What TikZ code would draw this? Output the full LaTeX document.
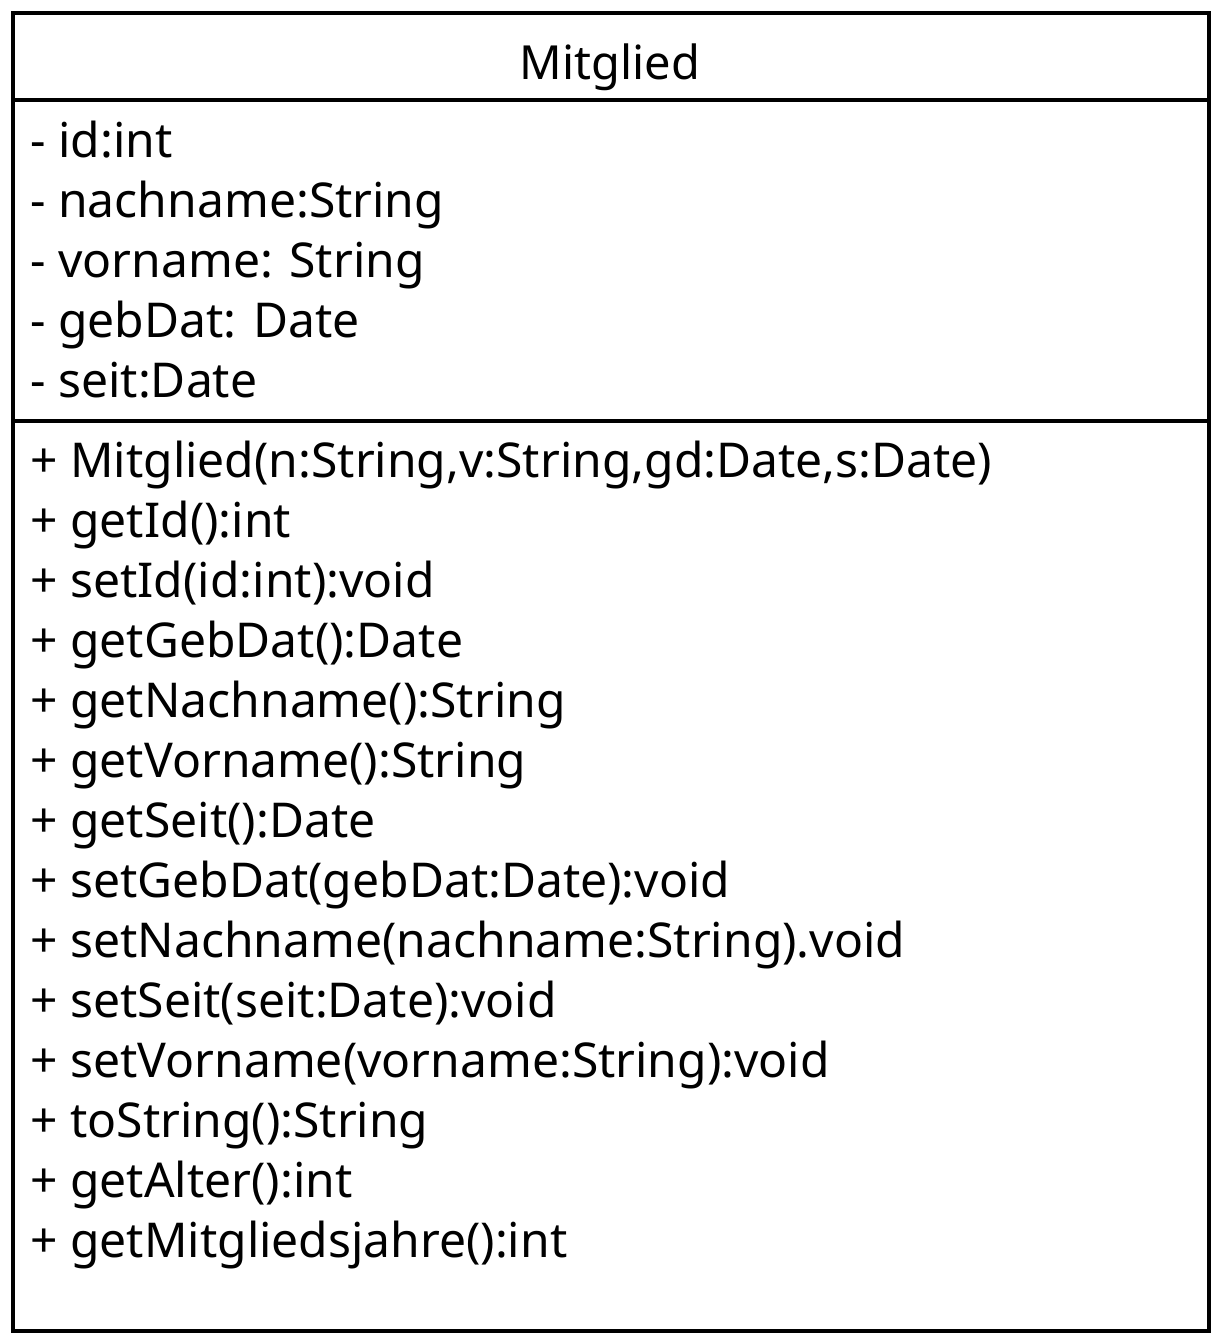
\documentclass[tikz,border=0pt]{standalone}
\usepackage{fontspec}
\setmainfont{Noto Sans}
\begin{document}
\begin{tikzpicture}[x=0.5pt,y=-0.5pt,
  umltext/.style={anchor=base west,inner sep=0pt,font=\fontsize{24}{28}\selectfont},
  umltitle/.style={anchor=base,inner sep=0pt,font=\fontsize{23.5}{28}\selectfont},
  boxline/.style={line width=2pt,black}]
\useasboundingbox (0,0) rectangle (1220,1340);
\draw[boxline] (13,13) rectangle (1209,1331);
\draw[boxline] (13,100) -- (1209,100);
\draw[boxline] (13,421) -- (1209,421);
\node[umltitle] (title) at (610,79) {Mitglied};
\foreach \t [count=\i from 0] in {- id:int,- nachname:String,- vorname: String,- gebDat: Date,- seit:Date}
  \node[umltext] (a\i) at (30,157+60*\i) {\t};
\foreach \t [count=\i from 0] in {{+ Mitglied(n:String,v:String,gd:Date,s:Date)},+ getId():int,+ setId(id:int):void,+ getGebDat():Date,+ getNachname():String,+ getVorname():String,+ getSeit():Date,+ setGebDat(gebDat:Date):void,+ setNachname(nachname:String).void,+ setSeit(seit:Date):void,+ setVorname(vorname:String):void,+ toString():String,+ getAlter():int,+ getMitgliedsjahre():int}
  \node[umltext] (m\i) at (30,477+60*\i) {\t};
\end{tikzpicture}
\end{document}
